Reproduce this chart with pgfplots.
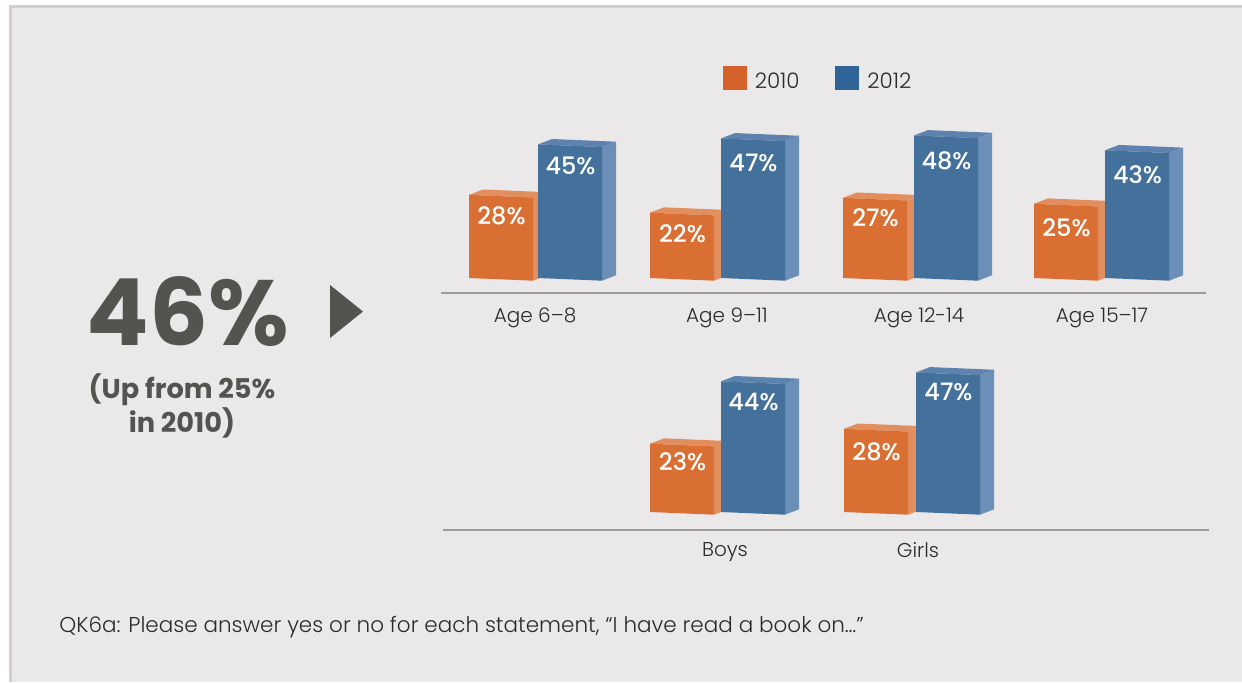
\documentclass[border=0pt]{standalone}
\usepackage{fontspec}
\usepackage{pgfplots}
\pgfplotsset{compat=1.18}
\setmainfont{Poppins Light}[BoldFont=Poppins Bold]
\newfontfamily\medfont{Poppins Medium}

\definecolor{panel}{HTML}{EAE8E9}
\definecolor{edge}{HTML}{D3CDD0}
\definecolor{txt}{HTML}{2B2B2D}
\definecolor{heavy}{HTML}{555350}
\definecolor{rule}{HTML}{9C9C9C}
\definecolor{ofront}{HTML}{D96F33}
\definecolor{oside}{HTML}{E28E5E}
\definecolor{bfront}{HTML}{44709C}
\definecolor{bside}{HTML}{6B8FB7}
\definecolor{btop}{HTML}{5D82AD}
\definecolor{lego}{HTML}{D4622A}
\definecolor{legb}{HTML}{2F6496}

% left x, width (px), value, label drop (px), front, side, top
\newcommand\slab[7]{%
  \pgfmathsetmacro\xr{#1+#2}%
  \pgfmathsetmacro\xa{#1+14}%
  \pgfmathsetmacro\xb{#1+#2+14}%
  \pgfmathsetmacro\lowr{#3-0.9}%
  \pgfmathsetmacro\upa{#3+1.8}%
  \pgfmathsetmacro\upb{#3+0.9}%
  \pgfmathsetmacro\lx{#1+#2/2+0.5}%
  \pgfmathsetmacro\ly{#3-#4/2.97}%
  \edef\tmp{%
    \noexpand\addplot[forget plot,draw=none,fill=#7] coordinates {(#1,#3) (\xa,\upa) (\xb,\upb) (\xr,\lowr)} --cycle;
    \noexpand\addplot[forget plot,draw=none,fill=#6] coordinates {(\xr,-0.9) (\xb,0.9) (\xb,\upb) (\xr,\lowr)} --cycle;
    \noexpand\addplot[forget plot,draw=none,fill=#5] coordinates {(#1,0) (\xr,-0.9) (\xr,\lowr) (#1,#3)} --cycle;
    \noexpand\node[text=white,font=\noexpand\fontsize{12pt}{14pt}\noexpand\medfont] at (axis cs:\lx,\ly) {#3\noexpand\%};
  }\tmp
}
\newcommand\pair[6]{% orange x, orange value, drop, blue x, blue value, drop
  \slab{#1}{64}{#2}{#3}{ofront}{oside}{oside}
  \slab{#4}{64}{#5}{#6}{bfront}{bside}{btop}
}

\pgfplotsset{panelaxis/.style={
  x=0.5pt, y=1.485pt, scale only axis, enlargelimits=false, clip=false,
  axis y line=none, axis x line*=bottom,
  axis line style={rule,line width=0.9pt},
  major tick length=0pt, xtick pos=bottom,
  xticklabel style={text=txt,font=\fontsize{10pt}{12pt}\selectfont,yshift=-4pt},
}}

\begin{document}
\begin{tikzpicture}
\begin{scope}[x=0.5pt,y=-0.5pt]
  \path[use as bounding box] (0,0) rectangle (1242,682);
  \fill[white] (0,0) rectangle (1242,682);
  \fill[edge] (9,4.5) rectangle (1242,682);
  \fill[panel] (12,7.5) rectangle (1242,682);
  \fill[heavy] (330,285) -- (363,311.5) -- (330,338) -- cycle;
  \node[text=heavy,font=\fontsize{46.3pt}{50pt}\bfseries] at (187.5,312) {46\%};
  \node[text=heavy,font=\fontsize{13.6pt}{15pt}\bfseries,align=center] at (182,405.5) {(Up from 25\%\\in 2010)};
  \node[text=txt,font=\fontsize{10.75pt}{12pt}\selectfont,anchor=west,inner sep=0pt] at (59,627) {QK6a: Please answer yes or no for each statement, “I have read a book on…”};
\end{scope}

\begin{axis}[panelaxis,
  at={(220.5pt,-146.5pt)}, anchor=south west,
  xmin=441, xmax=1206, ymin=-5.05, ymax=71.65,
  xtick={535,727,919,1102},
  xticklabels={Age 6–8,Age 9–11,Age 12-14,Age 15–17},
  legend columns=2,
  legend style={draw=none,fill=none,at={(0.3676,1)},anchor=north west,
    font=\fontsize{10.7pt}{12pt}\selectfont,text=txt,inner sep=0pt,
    /tikz/every odd column/.append style={column sep=2.2pt},
    /tikz/every even column/.append style={column sep=15.8pt}},
  legend image code/.code={\fill[#1] (0pt,-3.25pt) rectangle (11.5pt,8.25pt);},
]
\addlegendimage{lego}
\addlegendentry{2010}
\addlegendimage{legb}
\addlegendentry{2012}
\pair{469}{28}{21}{538}{45}{22}
\pair{650}{22}{21}{721}{47}{25}
\pair{843}{27}{20}{914}{48}{25}
\pair{1034}{25}{24}{1105}{43}{24}
\end{axis}

\begin{axis}[panelaxis,
  at={(221.5pt,-265pt)}, anchor=south west,
  xmin=443, xmax=1209, ymin=-6.06, ymax=55,
  xticklabel style={yshift=1.5pt},
  xtick={725,918},
  xticklabels={Boys,Girls},
]
\pair{650}{23}{18}{721}{44}{21}
\pair{844}{28}{23}{916}{47}{20}
\end{axis}
\end{tikzpicture}
\end{document}
